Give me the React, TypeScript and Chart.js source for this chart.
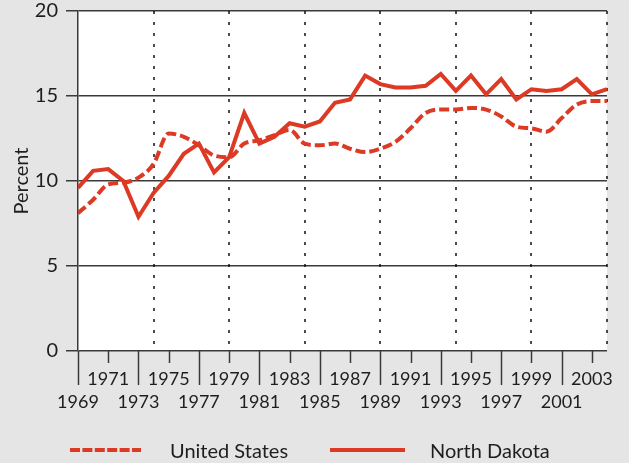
import React, { useEffect, useRef } from "react";
import { Chart, registerables } from "chart.js";

Chart.register(...registerables);

const years: number[] = [
  1969, 1970, 1971, 1972, 1973, 1974, 1975, 1976, 1977, 1978, 1979, 1980,
  1981, 1982, 1983, 1984, 1985, 1986, 1987, 1988, 1989, 1990, 1991, 1992,
  1993, 1994, 1995, 1996, 1997, 1998, 1999, 2000, 2001, 2002, 2003, 2004,
];

const unitedStates: number[] = [
  8.1, 8.9, 9.8, 9.9, 10.2, 11.0, 12.8, 12.6, 12.1, 11.5, 11.4, 12.2,
  12.4, 12.7, 13.0, 12.2, 12.1, 12.2, 11.9, 11.7, 11.9, 12.3, 13.1, 14.0,
  14.2, 14.2, 14.3, 14.2, 13.8, 13.2, 13.1, 12.9, 13.7, 14.5, 14.7, 14.7,
];

const northDakota: number[] = [
  9.6, 10.6, 10.7, 10.0, 7.9, 9.3, 10.3, 11.6, 12.2, 10.5, 11.4, 14.0,
  12.2, 12.6, 13.4, 13.2, 13.5, 14.6, 14.8, 16.2, 15.7, 15.5, 15.5, 15.6,
  16.3, 15.3, 16.2, 15.1, 16.0, 14.8, 15.4, 15.3, 15.4, 16.0, 15.1, 15.4,
];

const xTickYears: number[] = [
  1969, 1971, 1973, 1975, 1977, 1979, 1981, 1983, 1985, 1987, 1989, 1991,
  1993, 1995, 1997, 1999, 2001, 2003,
];

const dottedYears: number[] = [1974, 1979, 1984, 1989, 1994, 1999, 2004];

const yTicks: number[] = [0, 5, 10, 15, 20];

const seriesNames = ["United States", "North Dakota"];

const RED = "#dc3a24";
const INK = "#1e1e1e";
const GRID = "#3a3a3a";
const FONT = "Lato";

const decorPlugin = {
  id: "decor",
  beforeDraw(chart: any) {
    const { ctx, chartArea } = chart;
    ctx.save();
    ctx.fillStyle = "#ffffff";
    ctx.fillRect(
      chartArea.left,
      chartArea.top,
      chartArea.right - chartArea.left,
      chartArea.bottom - chartArea.top
    );
    ctx.restore();
  },
  beforeDatasetsDraw(chart: any) {
    const { ctx, chartArea, scales } = chart;
    const x = scales.x;
    ctx.save();
    ctx.strokeStyle = "#111";
    ctx.lineWidth = 1.5;
    ctx.setLineDash([3, 8]);
    dottedYears.forEach((yr) => {
      const px = Math.round(x.getPixelForValue(yr));
      ctx.beginPath();
      ctx.moveTo(px, chartArea.top);
      ctx.lineTo(px, chartArea.bottom);
      ctx.stroke();
    });
    ctx.restore();
  },
  afterDraw(chart: any) {
    const { ctx, chartArea, scales } = chart;
    const x = scales.x;
    ctx.save();
    ctx.strokeStyle = GRID;
    ctx.lineWidth = 1.5;
    ctx.setLineDash([]);
    xTickYears.forEach((yr, i) => {
      const px = Math.round(x.getPixelForValue(yr)) + 0.5;
      const len = i % 2 === 0 ? 34 : 12;
      ctx.beginPath();
      ctx.moveTo(px, chartArea.bottom);
      ctx.lineTo(px, chartArea.bottom + len);
      ctx.stroke();
    });

    const ly = 450;
    const ds = chart.data.datasets;
    const items = [
      { x0: 70, x1: 141, tx: 170, ds: ds[0] },
      { x0: 330, x1: 405, tx: 430, ds: ds[1] },
    ];
    items.forEach((it) => {
      ctx.strokeStyle = it.ds.borderColor;
      ctx.lineWidth = 4;
      ctx.setLineDash(it.ds.borderDash ? [10, 2.4] : []);
      ctx.beginPath();
      ctx.moveTo(it.x0, ly);
      ctx.lineTo(it.x1, ly);
      ctx.stroke();
      ctx.setLineDash([]);
      ctx.fillStyle = INK;
      ctx.font = `20px ${FONT}`;
      ctx.textBaseline = "middle";
      ctx.textAlign = "left";
      ctx.fillText(it.ds.label, it.tx, ly + 2);
    });
    ctx.restore();
  },
};

export default function App() {
  const canvasRef = useRef<HTMLCanvasElement | null>(null);

  useEffect(() => {
    if (!canvasRef.current) return;
    const chart = new Chart(canvasRef.current, {
      type: "line",
      data: {
        datasets: [
          {
            label: seriesNames[0],
            data: years.map((yr, i) => ({ x: yr, y: unitedStates[i] })),
            borderColor: RED,
            backgroundColor: RED,
            borderWidth: 4,
            borderDash: [10, 4],
            pointRadius: 0,
            cubicInterpolationMode: "monotone",
            fill: false,
          },
          {
            label: seriesNames[1],
            data: years.map((yr, i) => ({ x: yr, y: northDakota[i] })),
            borderColor: RED,
            backgroundColor: RED,
            borderWidth: 4,
            pointRadius: 0,
            tension: 0,
            fill: false,
          },
        ],
      },
      options: {
        animation: false,
        responsive: false,
        devicePixelRatio: 1,
        layout: { padding: { top: 11, right: 22, bottom: 0, left: 0 } },
        plugins: {
          legend: { display: false },
          tooltip: { enabled: false },
        },
        scales: {
          x: {
            type: "linear",
            min: 1969,
            max: 2004,
            grid: { display: false, drawTicks: false, tickLength: 0 },
            border: { display: false },
            afterBuildTicks: (scale: any) => {
              scale.ticks = xTickYears.map((v) => ({ value: v }));
            },
            afterFit: (scale: any) => {
              scale.height = 112;
              scale.paddingLeft = 0;
              scale.paddingRight = 0;
            },
            ticks: {
              autoSkip: false,
              maxRotation: 0,
              minRotation: 0,
              padding: 17,
              color: INK,
              font: { family: FONT, size: 18, lineHeight: 1.28 },
              callback: (value: any, index: number) =>
                index % 2 === 0 ? ["", String(value)] : [String(value), ""],
            },
          },
          y: {
            type: "linear",
            min: 0,
            max: 20,
            afterBuildTicks: (scale: any) => {
              scale.ticks = yTicks.map((v) => ({ value: v }));
            },
            afterFit: (scale: any) => {
              scale.width = 78;
              scale.paddingTop = 0;
              scale.paddingBottom = 0;
            },
            grid: {
              color: GRID,
              lineWidth: 1.5,
              tickLength: 12,
              drawTicks: true,
            },
            border: { display: true, color: GRID, width: 1.5 },
            ticks: {
              padding: 8,
              color: INK,
              font: { family: FONT, size: 20 },
            },
            title: {
              display: true,
              text: "Percent",
              color: INK,
              font: { family: FONT, size: 20 },
              padding: { top: 10, bottom: 0 },
            },
          },
        },
      },
      plugins: [decorPlugin],
    } as any);
    return () => chart.destroy();
  }, []);

  return (
    <div
      style={{
        position: "absolute",
        left: 0,
        top: 0,
        width: 629,
        height: 463,
        background: "#e5e5e5",
      }}
    >
      <canvas ref={canvasRef} width={629} height={463} style={{ display: "block" }} />
    </div>
  );
}
